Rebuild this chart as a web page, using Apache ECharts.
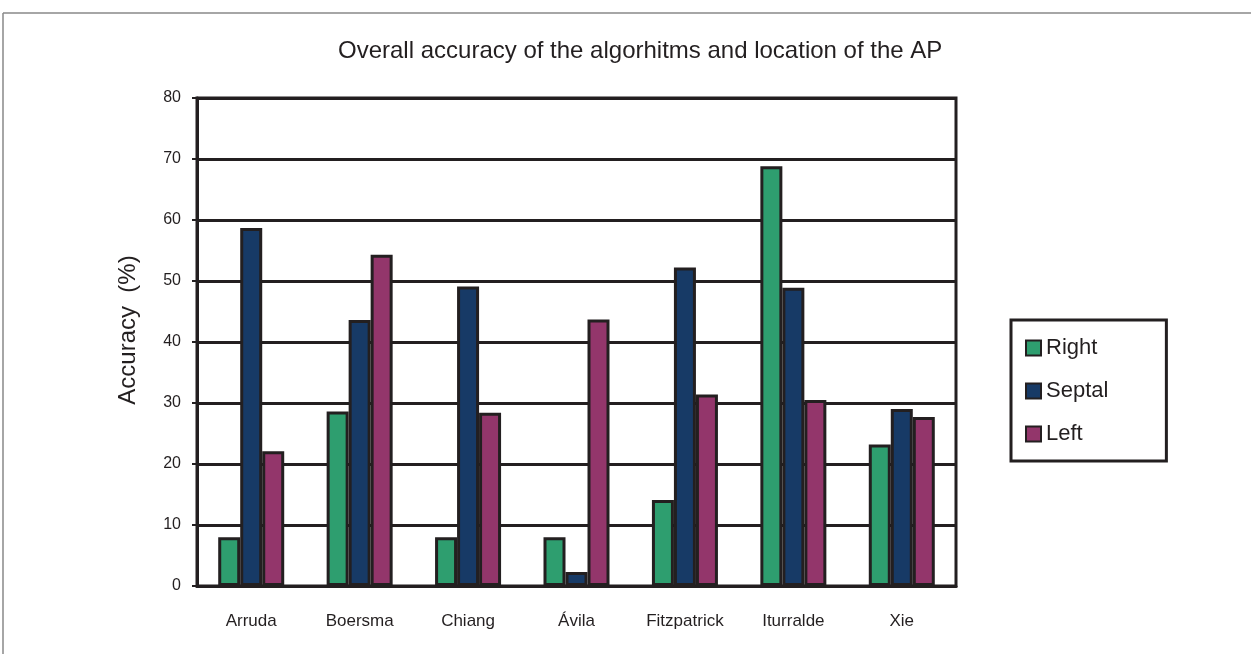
<!DOCTYPE html>
<html>
<head>
<meta charset="utf-8">
<script src="https://cdn.jsdelivr.net/npm/echarts@6/dist/echarts.min.js"></script>
<style>
  html, body { margin: 0; padding: 0; background: #fff; }
  #chart { width: 1251px; height: 654px; }
</style>
</head>
<body>
<div id="chart"></div>
<script>
const algorithms = ['Arruda', 'Boersma', 'Chiang', 'Ávila', 'Fitzpatrick', 'Iturralde', 'Xie'];
const rightVals = [8, 28.6, 8, 8, 14.1, 68.8, 23.2];
const septalVals = [58.7, 43.6, 49.1, 2.3, 52.2, 48.9, 29.0];
const leftVals = [22.1, 54.3, 28.4, 43.7, 31.4, 30.5, 27.7];
const yTicks = [0, 10, 20, 30, 40, 50, 60, 70, 80];

const ink = '#231f20';
const font = 'Liberation Sans';

const chart = echarts.init(document.getElementById('chart'));

const makeSeries = (name, data, color) => ({
  name,
  type: 'bar',
  data,
  barWidth: 22,
  barGap: '0%',
  itemStyle: { color, borderColor: ink, borderWidth: 3 }
});

chart.setOption({
  animation: false,
  title: {
    text: 'Overall accuracy of the algorhitms and location of the AP',
    left: 333,
    top: 34,
    textStyle: { fontFamily: font, fontSize: 24, fontWeight: 'normal', color: ink }
  },
  grid: {
    left: 197, top: 98, width: 759, height: 488,
    show: true, borderColor: ink, borderWidth: 3
  },
  legend: {
    orient: 'vertical',
    left: 1011,
    top: 320,
    padding: [17, 58, 16, 14],
    itemGap: 21,
    itemWidth: 15,
    itemHeight: 15,
    icon: 'rect',
    borderColor: ink,
    borderWidth: 3,
    textStyle: { fontFamily: font, fontSize: 22, color: ink },
    data: ['Right', 'Septal', 'Left']
  },
  xAxis: {
    type: 'category',
    data: algorithms,
    axisLine: { lineStyle: { color: ink, width: 3 } },
    axisTick: { show: false },
    axisLabel: { fontFamily: font, fontSize: 17, color: ink, margin: 27, interval: 0 }
  },
  yAxis: {
    type: 'value',
    min: yTicks[0],
    max: yTicks[yTicks.length - 1],
    interval: 10,
    name: 'Accuracy  (%)',
    nameLocation: 'middle',
    nameGap: 57,
    nameTextStyle: { fontFamily: font, fontSize: 24, color: ink, padding: [0, 0, 0, 24] },
    axisLine: { show: true, lineStyle: { color: ink, width: 3 } },
    axisTick: { show: true, length: 5, lineStyle: { color: ink, width: 2 } },
    axisLabel: { fontFamily: font, fontSize: 16, color: ink, margin: 16 },
    splitLine: { lineStyle: { color: ink, width: 3 } }
  },
  graphic: [
    { type: 'line', shape: { x1: 3, y1: 13, x2: 1251, y2: 13 }, style: { stroke: '#888', lineWidth: 1.5 } },
    { type: 'line', shape: { x1: 3, y1: 13, x2: 3, y2: 654 }, style: { stroke: '#888', lineWidth: 1.5 } }
  ],
  series: [
    makeSeries('Right', rightVals, '#2e9e6f'),
    makeSeries('Septal', septalVals, '#173a66'),
    makeSeries('Left', leftVals, '#93366b')
  ]
});
</script>
</body>
</html>
